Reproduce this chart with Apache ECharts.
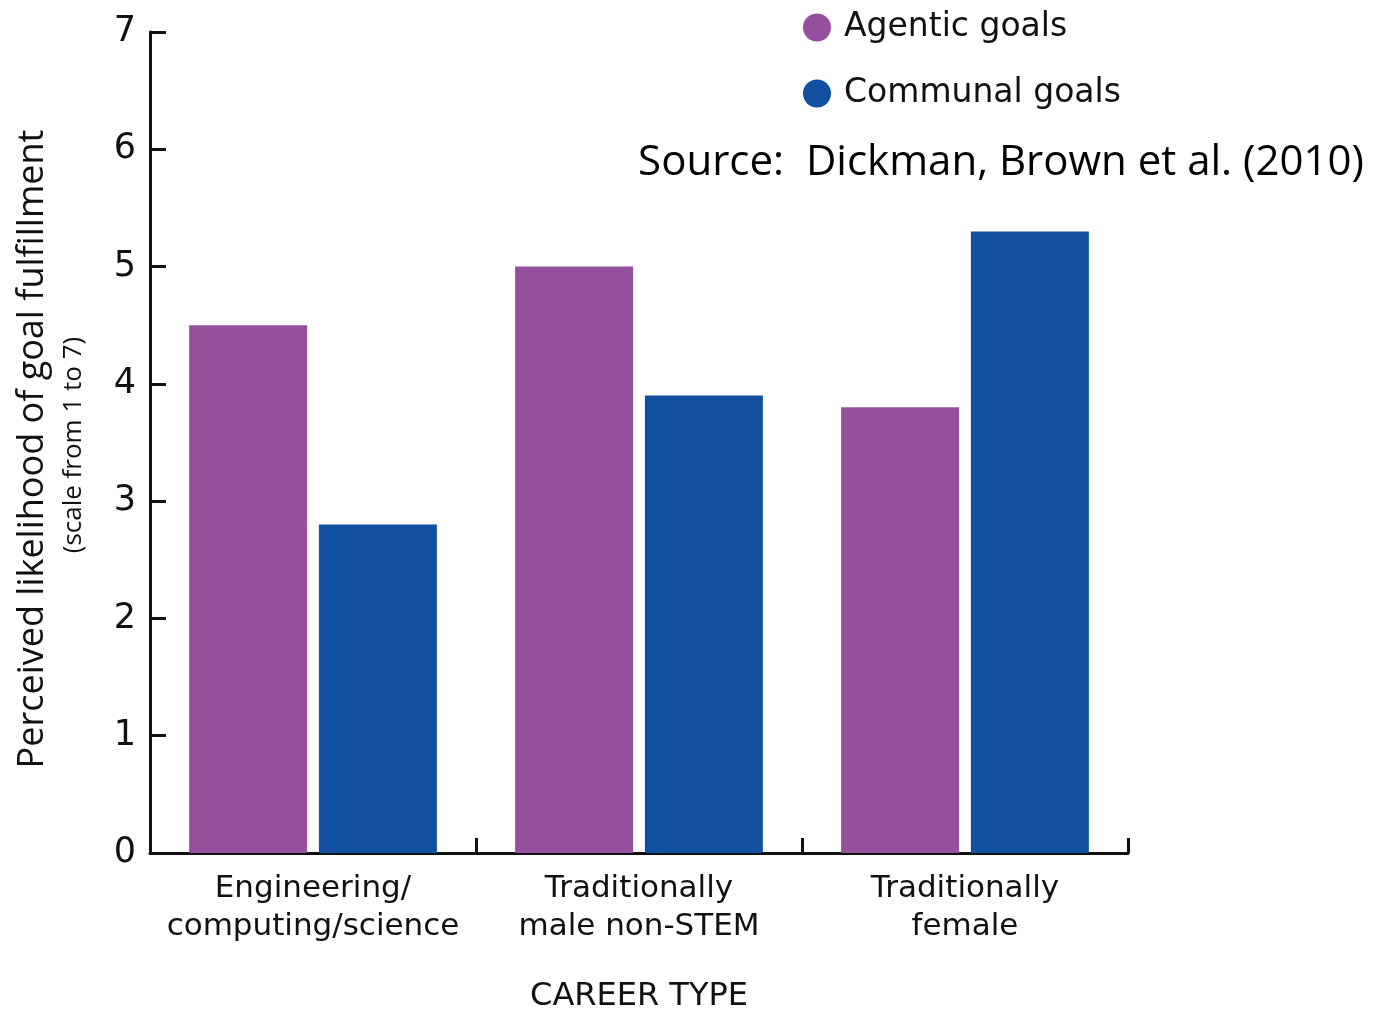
<!DOCTYPE html>
<html>
<head>
<meta charset="utf-8">
<script src="https://cdn.jsdelivr.net/npm/echarts@6/dist/echarts.min.js"></script>
<style>
  html, body { margin: 0; padding: 0; background: #fff; }
  #chart { width: 1378px; height: 1011px; }
</style>
</head>
<body>
<div id="chart"></div>
<script>
var categories = ['Engineering/\ncomputing/science', 'Traditionally\nmale non-STEM', 'Traditionally\nfemale']
var agentic = [4.5, 5.0, 3.8]
var communal = [2.8, 3.9, 5.3]
var yTicks = [0, 1, 2, 3, 4, 5, 6, 7]

var font = 'DejaVu Sans'
var font2 = 'Open Sans'

var chart = echarts.init(document.getElementById('chart'))
chart.setOption({
    animation: false,
    grid: { left: 150, right: 250, top: 32, bottom: 158, outerBoundsMode: 'none' },
    legend: {
        orient: 'vertical',
        left: 798,
        top: 6,
        icon: 'circle',
        itemWidth: 28,
        itemHeight: 28,
        itemGap: 33,
        textStyle: { fontFamily: font, fontSize: 33, color: '#111', padding: [0, 0, 0, 8] },
        data: ['Agentic goals', 'Communal goals']
    },
    xAxis: {
        type: 'category',
        data: categories,
        name: 'CAREER TYPE',
        nameLocation: 'middle',
        nameGap: 128,
        nameTextStyle: { fontFamily: font, fontSize: 32, color: '#111' },
        axisLine: { lineStyle: { color: '#111', width: 3 } },
        axisTick: { show: true, inside: true, length: 15, lineStyle: { color: '#111', width: 3 } },
        axisLabel: { interval: 0, fontFamily: font, fontSize: 31, color: '#111', lineHeight: 38, margin: 17 }
    },
    yAxis: {
        type: 'value',
        min: yTicks[0],
        max: yTicks[yTicks.length - 1],
        interval: 1,
        splitLine: { show: false },
        axisLine: { show: true, lineStyle: { color: '#111', width: 3 } },
        axisTick: { show: true, inside: true, length: 16, lineStyle: { color: '#111', width: 3 } },
        axisLabel: { fontFamily: font, fontSize: 35, color: '#111', margin: 14, padding: [9, 0, 0, 0] }
    },
    series: [
        {
            name: 'Agentic goals',
            type: 'bar',
            data: agentic,
            barGap: '10%',
            barCategoryGap: '24%',
            itemStyle: { color: '#95509d' }
        },
        {
            name: 'Communal goals',
            type: 'bar',
            data: communal,
            itemStyle: { color: '#114fa0' }
        }
    ],
    graphic: [
        {
            type: 'text',
            x: 33, y: 449,
            rotation: Math.PI / 2,
            style: {
                text: 'Perceived likelihood of goal fulfillment',
                fontFamily: font2, fontSize: 36, fill: '#111',
                align: 'center', verticalAlign: 'middle'
            }
        },
        {
            type: 'text',
            x: 74, y: 445,
            rotation: Math.PI / 2,
            style: {
                text: '(scale from 1 to 7)',
                fontFamily: font2, fontSize: 26, fill: '#111',
                align: 'center', verticalAlign: 'middle'
            }
        },
        {
            type: 'text',
            x: 1001, y: 163,
            style: {
                text: 'Source:  Dickman, Brown et al. (2010)',
                fontFamily: font2, fontSize: 42, fill: '#000',
                align: 'center', verticalAlign: 'middle'
            }
        }
    ]
})
</script>
</body>
</html>
